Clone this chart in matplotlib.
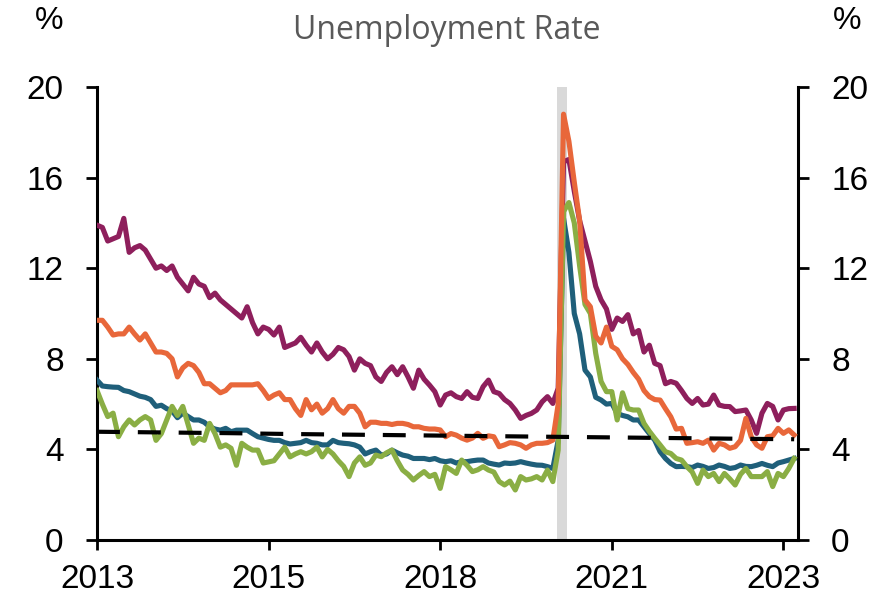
import matplotlib
matplotlib.use("Agg")
import matplotlib.pyplot as plt

# monthly data, Jan 2013 .. Nov 2023 (index 0 = Jan 2013)
black = [13.9, 13.8, 13.2, 13.3, 13.4, 14.2, 12.7, 12.9, 13.0, 12.8, 12.4, 12.0,
         12.1, 11.9, 12.1, 11.6, 11.3, 11.0, 11.6, 11.3, 11.2, 10.7, 10.9, 10.6,
         10.4, 10.2, 10.0, 9.8, 10.3, 9.6, 9.1, 9.4, 9.3, 9.05, 9.4, 8.5,
         8.6, 8.7, 8.95, 8.6, 8.3, 8.7, 8.3, 8.0, 8.2, 8.5, 8.4, 8.1,
         7.5, 8.0, 7.8, 7.7, 7.2, 7.0, 7.4, 7.65, 7.3, 7.65, 7.2, 6.7,
         7.5, 7.1, 6.84, 6.55, 5.96, 6.4, 6.5, 6.33, 6.25, 6.55, 6.3, 6.25,
         6.77, 7.06, 6.55, 6.47, 6.2, 6.03, 5.74, 5.37, 5.5, 5.59, 5.74, 6.1,
         6.33, 6.03, 6.7, 16.7, 16.8, 15.4, 14.1, 13.2, 12.3, 11.2, 10.6, 10.2,
         9.3, 9.8, 9.65, 9.95, 9.1, 9.25, 8.3, 8.6, 7.8, 7.7, 6.9, 7.0,
         6.92, 6.6, 6.25, 6.03, 6.25, 5.96, 6.0, 6.4, 5.96, 5.9, 5.89, 5.67,
         5.7, 5.74, 5.3, 4.71, 5.6, 6.03, 5.9, 5.3, 5.74, 5.8, 5.81]
hispanic = [9.7, 9.7, 9.4, 9.05, 9.1, 9.1, 9.4, 9.1, 8.83, 9.1, 8.7, 8.3,
            8.3, 8.24, 8.0, 7.2, 7.6, 7.8, 7.7, 7.4, 6.9, 6.9, 6.7, 6.5,
            6.6, 6.85, 6.85, 6.85, 6.85, 6.85, 6.9, 6.6, 6.25, 6.4, 6.5, 6.2,
            6.2, 5.8, 5.5, 6.2, 5.75, 6.0, 5.6, 5.8, 6.2, 5.8, 5.6, 5.9,
            5.9, 5.6, 5.0, 5.2, 5.2, 5.15, 5.15, 5.1, 5.15, 5.15, 5.1, 5.0,
            5.0, 4.93, 4.9, 4.9, 4.86, 4.56, 4.7, 4.63, 4.5, 4.41, 4.5, 4.71,
            4.49, 4.6, 4.56, 4.12, 4.2, 4.3, 4.27, 4.2, 4.05, 4.2, 4.27, 4.27,
            4.3, 4.41, 6.0, 18.8, 17.6, 15.8, 14.1, 10.6, 10.3, 9.0, 8.7, 9.4,
            8.55, 8.4, 8.0, 7.75, 7.4, 7.1, 6.6, 6.33, 6.2, 6.18, 5.8, 5.44,
            4.9, 4.93, 4.27, 4.3, 4.34, 4.27, 4.41, 3.97, 4.27, 4.2, 4.05, 4.12,
            4.4, 5.37, 4.56, 4.2, 4.05, 4.56, 4.6, 4.93, 4.71, 4.86, 4.64]
white = [7.06, 6.8, 6.77, 6.75, 6.74, 6.6, 6.55, 6.45, 6.35, 6.3, 6.2, 5.9,
         5.95, 5.8, 5.7, 5.4, 5.6, 5.45, 5.3, 5.3, 5.2, 5.0, 4.9, 4.85,
         4.93, 4.78, 4.85, 4.85, 4.85, 4.7, 4.56, 4.5, 4.44, 4.4, 4.4, 4.3,
         4.24, 4.27, 4.3, 4.4, 4.3, 4.27, 4.2, 4.2, 4.4, 4.3, 4.27, 4.25,
         4.2, 4.1, 3.8, 3.9, 3.97, 3.75, 3.8, 3.97, 3.85, 3.75, 3.7, 3.6,
         3.6, 3.6, 3.55, 3.6, 3.5, 3.46, 3.5, 3.4, 3.46, 3.46, 3.5, 3.53,
         3.53, 3.4, 3.35, 3.31, 3.4, 3.38, 3.4, 3.46, 3.4, 3.35, 3.31, 3.3,
         3.24, 3.16, 4.4, 14.2, 12.7, 10.0, 9.1, 7.5, 7.2, 6.3, 6.18, 6.0,
         6.03, 5.59, 5.5, 5.44, 5.3, 5.3, 5.0, 4.7, 4.41, 3.9, 3.6, 3.38,
         3.24, 3.25, 3.24, 3.2, 3.31, 3.25, 3.16, 3.2, 3.31, 3.25, 3.16, 3.2,
         3.31, 3.25, 3.24, 3.3, 3.38, 3.3, 3.24, 3.4, 3.46, 3.53, 3.6]
asian = [6.6, 6.0, 5.45, 5.6, 4.56, 5.0, 5.3, 5.08, 5.3, 5.45, 5.3, 4.4,
         4.7, 5.3, 5.9, 5.5, 5.9, 5.08, 4.27, 4.5, 4.4, 5.15, 4.7, 4.1,
         4.2, 4.05, 3.3, 4.27, 4.1, 3.97, 3.97, 3.4, 3.45, 3.5, 3.8, 4.1,
         3.67, 3.8, 3.9, 3.8, 3.9, 4.1, 3.67, 4.0, 3.8, 3.5, 3.25, 2.8,
         3.4, 3.67, 3.3, 3.4, 3.75, 3.68, 3.85, 3.97, 3.5, 3.09, 2.9, 2.65,
         2.85, 3.02, 2.8, 2.9, 2.28, 3.24, 3.1, 2.94, 3.53, 3.3, 3.02, 3.1,
         3.24, 3.09, 3.0, 2.58, 2.43, 2.6, 2.21, 2.8, 2.65, 2.7, 2.8, 2.65,
         3.09, 2.58, 3.97, 14.5, 14.9, 14.0, 12.1, 10.4, 10.0, 8.24, 7.0, 6.55,
         6.55, 5.3, 6.5, 5.8, 5.74, 5.74, 5.15, 4.8, 4.49, 4.2, 3.9, 3.82,
         3.6, 3.53, 3.24, 3.0, 2.5, 3.09, 2.8, 2.94, 2.58, 2.94, 2.7, 2.43,
         2.9, 3.16, 2.8, 2.8, 2.8, 3.02, 2.36, 2.94, 2.8, 3.16, 3.6]
months = list(range(len(black)))

nairu_months = [0, 12, 24, 36, 48, 60, 72, 84, 96, 108, 120, 130]
nairu = [4.78, 4.75, 4.72, 4.68, 4.65, 4.62, 4.59, 4.56, 4.53, 4.5, 4.47, 4.45]

rec_start, rec_end = 85.7, 87.7
tick_months = [0, 32, 64, 96, 128]
tick_labels = ["2013", "2015", "2018", "2021", "2023"]
y_ticks = [0, 4, 8, 12, 16, 20]

fig = plt.figure(figsize=(8.94, 6.05), dpi=100)
ax = fig.add_axes([0.1085, 0.1074, 0.784, 0.7488])

ax.axvspan(rec_start, rec_end, color="#d9d9d9", lw=0, zorder=1)
ax.plot(months, black, color="#8e1f5c", lw=3.7, zorder=3)
ax.plot(months, hispanic, color="#e8673a", lw=3.7, zorder=4)
ax.plot(months, white, color="#1f5f7a", lw=3.7, zorder=3)
ax.plot(months, asian, color="#8aae44", lw=3.7, zorder=3)
ax.plot(nairu_months, nairu, color="black", lw=3, dashes=(5.5, 4.3), zorder=5)

ax.set_xlim(0, 130.7)
ax.set_ylim(0, 20)
ax.set_xticks(tick_months)
ax.set_xticklabels(tick_labels)
ax.set_yticks(y_ticks)

for s in ["left", "right", "bottom"]:
    ax.spines[s].set_linewidth(2.2)
ax.spines["top"].set_visible(False)
ax.tick_params(axis="y", direction="out", length=8, width=2, labelsize=24,
               left=True, right=True, labelleft=True, labelright=True, pad=16)
ax.tick_params(axis="x", direction="out", length=7, width=2, labelsize=24, pad=10)
for lab in ax.get_xticklabels() + ax.get_yticklabels():
    lab.set_fontfamily("Liberation Sans")

fig.text(0.5, 0.950, "Unemployment Rate", ha="center", va="center",
         fontsize=23, color="#595959", family="Open Sans")
fig.text(0.055, 0.966, "%", ha="center", va="center", fontsize=23, family="Liberation Sans")
fig.text(0.948, 0.966, "%", ha="center", va="center", fontsize=23, family="Liberation Sans")

fig.savefig("out.png", dpi=100)
